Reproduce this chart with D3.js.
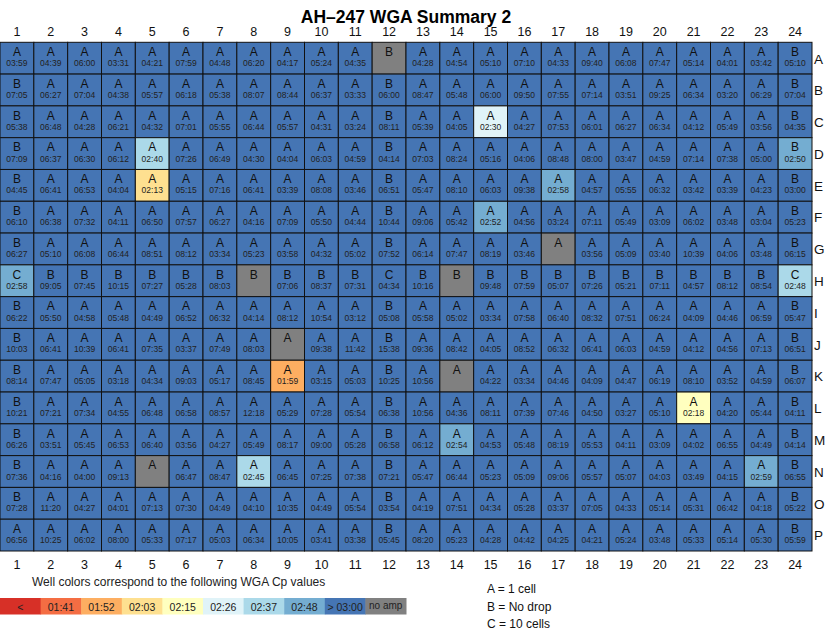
<!DOCTYPE html>
<html>
<head>
<meta charset="utf-8">
<script src="https://cdn.jsdelivr.net/npm/d3@7"></script>
<style>
  html, body { margin: 0; padding: 0; background: #fff; }
  svg { display: block; font-family: "Liberation Sans", Arial, Helvetica, sans-serif; }
</style>
</head>
<body>
<svg id="plate" width="826" height="633"></svg>
<script>
// Plate layout
const rowLabels = ["A","B","C","D","E","F","G","H","I","J","K","L","M","N","O","P"];
const colLabels = [1,2,3,4,5,6,7,8,9,10,11,12,13,14,15,16,17,18,19,20,21,22,23,24];

// Well type per row (A = 1 cell, B = No drop, C = 10 cells)
const wellTypes = [
  "AAAAAAAAAAABAAAAAAAAAAAB",
  "BAAAAAAAAAABAAAAAAAAAAAB",
  "BAAAAAAAAAABAAAAAAAAAAAB",
  "BAAAAAAAAAABAAAAAAAAAAAB",
  "BAAAAAAAAAABAAAAAAAAAAAB",
  "BAAAAAAAAAABAAAAAAAAAAAB",
  "BAAAAAAAAAABAAAAAAAAAAAB",
  "CBBBBBBBBBBCBBBBBBBBBBBC",
  "BAAAAAAAAAABAAAAAAAAAAAB",
  "BAAAAAAAAAABAAAAAAAAAAAB",
  "BAAAAAAAAAABAAAAAAAAAAAB",
  "BAAAAAAAAAABAAAAAAAAAAAB",
  "BAAAAAAAAAABAAAAAAAAAAAB",
  "BAAAAAAAAAABAAAAAAAAAAAB",
  "BAAAAAAAAAABAAAAAAAAAAAB",
  "AAAAAAAAAAABAAAAAAAAAAAB"
];

// WGA Cp times (mm:ss); "-" marks a well with no amplification
const cpA = "03:59 04:39 06:00 03:31 04:21 07:59 04:48 06:20 04:17 05:24 04:35 - 04:28 04:54 05:10 07:10 04:33 09:40 06:08 07:47 05:14 04:01 03:42 05:10";
const cpB = "07:05 06:27 07:04 04:38 05:57 06:18 05:38 08:07 08:44 06:37 03:33 06:00 08:47 05:48 06:00 09:50 07:55 07:14 03:51 09:25 06:34 03:20 06:29 07:04";
const cpC = "05:38 06:48 04:28 06:21 04:32 07:01 05:55 06:44 05:57 04:31 03:24 08:11 05:39 04:05 02:30 04:27 07:53 06:01 06:27 06:34 04:12 05:49 03:56 04:35";
const cpD = "07:09 06:37 06:30 06:12 02:40 07:26 06:49 04:30 04:04 06:03 04:59 04:14 07:03 08:24 05:16 04:06 08:48 08:00 03:47 04:59 07:14 07:38 05:00 02:50";
const cpE = "04:45 06:41 06:53 04:04 02:13 05:15 07:16 06:41 03:39 08:08 03:46 06:51 05:47 08:10 06:03 09:38 02:58 04:57 05:55 06:32 03:42 03:39 04:23 03:00";
const cpF = "06:10 06:38 07:32 04:11 06:50 07:57 06:27 04:16 07:09 05:50 04:44 10:44 09:06 05:42 02:52 04:56 03:24 07:11 05:49 03:09 06:02 03:48 03:04 05:23";
const cpG = "06:27 05:10 06:08 06:44 08:51 08:12 03:34 05:23 03:58 04:32 05:02 07:52 06:14 07:47 08:19 03:46 - 03:56 05:09 03:40 10:39 04:06 03:48 06:15";
const cpH = "02:58 09:05 07:45 10:15 07:27 05:28 08:03 - 07:06 08:37 07:31 04:34 10:16 - 09:48 07:59 05:07 07:26 05:21 07:11 04:57 08:12 08:54 02:48";
const cpI = "06:22 05:50 04:58 05:48 04:49 06:52 06:32 04:14 08:12 10:54 03:12 05:08 05:58 05:02 03:34 07:58 06:40 08:32 07:51 06:24 04:09 04:46 06:59 05:47";
const cpJ = "10:03 06:41 10:39 06:41 07:35 03:37 07:49 08:03 - 09:38 11:42 15:38 09:36 08:42 04:05 08:52 06:32 06:41 06:03 04:59 04:12 04:56 07:13 06:51";
const cpK = "08:14 07:47 05:05 03:18 04:34 09:03 05:17 08:45 01:59 03:15 05:03 10:25 10:56 - 04:22 03:34 04:46 04:09 04:47 06:19 08:10 03:52 04:59 06:07";
const cpL = "10:21 07:21 07:34 04:55 06:48 06:58 08:57 12:18 05:29 07:28 05:54 06:38 10:56 04:36 08:11 07:39 07:46 04:50 03:27 05:10 02:18 04:20 05:44 04:11";
const cpM = "06:26 03:51 05:45 06:53 06:40 03:56 04:27 05:49 08:17 09:00 05:28 06:58 06:12 02:54 04:53 05:48 08:19 05:53 04:11 03:09 04:02 06:55 04:49 04:14";
const cpN = "07:36 04:16 04:00 09:13 - 06:47 08:47 02:45 06:45 07:25 07:38 07:21 05:47 06:44 05:23 05:09 09:06 05:57 05:07 04:03 03:49 04:15 02:59 06:55";
const cpO = "07:28 11:20 04:27 04:01 07:13 07:30 04:49 04:10 10:35 04:49 05:54 03:54 04:19 07:51 04:34 05:28 03:37 07:05 04:33 05:14 05:31 06:42 04:18 05:22";
const cpP = "06:56 10:25 06:02 08:00 05:33 07:17 05:03 06:34 10:05 03:41 03:38 05:45 08:20 05:23 04:28 04:42 04:25 04:21 05:24 03:48 05:33 05:14 05:30 05:59";
const cpRows = [cpA, cpB, cpC, cpD, cpE, cpF, cpG, cpH, cpI, cpJ, cpK, cpL, cpM, cpN, cpO, cpP];

// Colour key: thresholds in seconds, bin colours and key labels
const cpThresholds = [101.25, 112.5, 123.75, 135, 146.25, 157.5, 168.75, 180];
const binColors = ["#d73027","#f46d43","#fdae61","#fee090","#ffffbf","#e0f3f8","#abd9e9","#74add1","#4575b4"];
const keyLabels = ["<","01:41","01:52","02:03","02:15","02:26","02:37","02:48","> 03:00","no amp"];
const noAmpColor = "#808080";
const typeNotes = ["A = 1 cell","B = No drop","C = 10 cells"];

const toSeconds = s => { const [m, sec] = s.split(":").map(Number); return m * 60 + sec; };

const wells = [];
rowLabels.forEach((r, i) => {
  const times = cpRows[i].split(" ");
  colLabels.forEach((c, j) => {
    const t = times[j];
    wells.push({ row: r, col: c, type: wellTypes[i][j], time: t === "-" ? null : t,
                 seconds: t === "-" ? null : toSeconds(t) });
  });
});

const svg = d3.select("#plate");
const x = d3.scaleBand().domain(colLabels).range([0, 812]);
const y = d3.scaleBand().domain(rowLabels).range([42.3, 551]);
const color = d3.scaleThreshold().domain(cpThresholds).range(binColors);

// Title
svg.append("text").attr("x", 406).attr("y", 23).attr("text-anchor", "middle")
  .attr("font-size", 17.5).attr("font-weight", "bold").text("AH\u2013247 WGA Summary 2");

// Wells
const cell = svg.append("g").selectAll("g").data(wells).join("g")
  .attr("transform", d => `translate(${x(d.col)},${y(d.row)})`);
cell.append("rect")
  .attr("width", x.bandwidth()).attr("height", y.bandwidth())
  .attr("fill", d => d.seconds === null ? noAmpColor : color(d.seconds))
  .attr("stroke", "#111").attr("stroke-width", 1);
cell.append("text").attr("x", x.bandwidth() / 2).attr("y", 13.8)
  .attr("text-anchor", "middle").attr("font-size", 12).attr("fill", "#111")
  .text(d => d.type);
cell.filter(d => d.time !== null).append("text")
  .attr("x", x.bandwidth() / 2).attr("y", 24)
  .attr("text-anchor", "middle").attr("font-size", 8.5).attr("fill", "#222")
  .text(d => d.time);

// Column numbers (top and bottom) and row letters (right)
const topAxis = d3.axisTop(x).tickSize(0).tickPadding(0);
const botAxis = d3.axisBottom(x).tickSize(0).tickPadding(0);
const rightAxis = d3.axisRight(y).tickSize(0).tickPadding(0);
function styleAxis(g) {
  g.select(".domain").remove();
  g.selectAll("text").attr("font-size", 12.5).attr("fill", "#111")
    .attr("font-family", "'Liberation Sans', Arial, sans-serif");
}
svg.append("g").attr("transform", "translate(0,36)").call(topAxis).call(styleAxis);
svg.append("g").attr("transform", "translate(0,560)").call(botAxis).call(styleAxis);
svg.append("g").attr("transform", "translate(814,1)").call(rightAxis).call(styleAxis)
  .selectAll("text").attr("text-anchor", "start").attr("font-size", 13.5);

// Colour key
svg.append("text").attr("x", 32).attr("y", 586).attr("font-size", 12).attr("fill", "#222")
  .text("Well colors correspond to the following WGA Cp values");
const keyColors = binColors.concat([noAmpColor]);
const kx = d3.scaleBand().domain(d3.range(keyLabels.length)).range([0, 406]);
const key = svg.append("g").selectAll("g").data(keyLabels).join("g")
  .attr("transform", (d, i) => `translate(${kx(i)},598)`);
key.append("rect").attr("width", kx.bandwidth() + 0.5).attr("height", 16.5)
  .attr("fill", (d, i) => keyColors[i]);
key.append("text").attr("x", kx.bandwidth() / 2).attr("y", (d, i) => i === 9 ? 11 : 12.5)
  .attr("text-anchor", "middle").attr("font-size", (d, i) => i === 9 ? 10 : 10.5)
  .attr("fill", "#222").text(d => d);

// Well type notes
svg.append("g").selectAll("text").data(typeNotes).join("text")
  .attr("x", 487).attr("y", (d, i) => 593 + i * 17.5)
  .attr("font-size", 12).attr("fill", "#111").text(d => d);
</script>
</body>
</html>
